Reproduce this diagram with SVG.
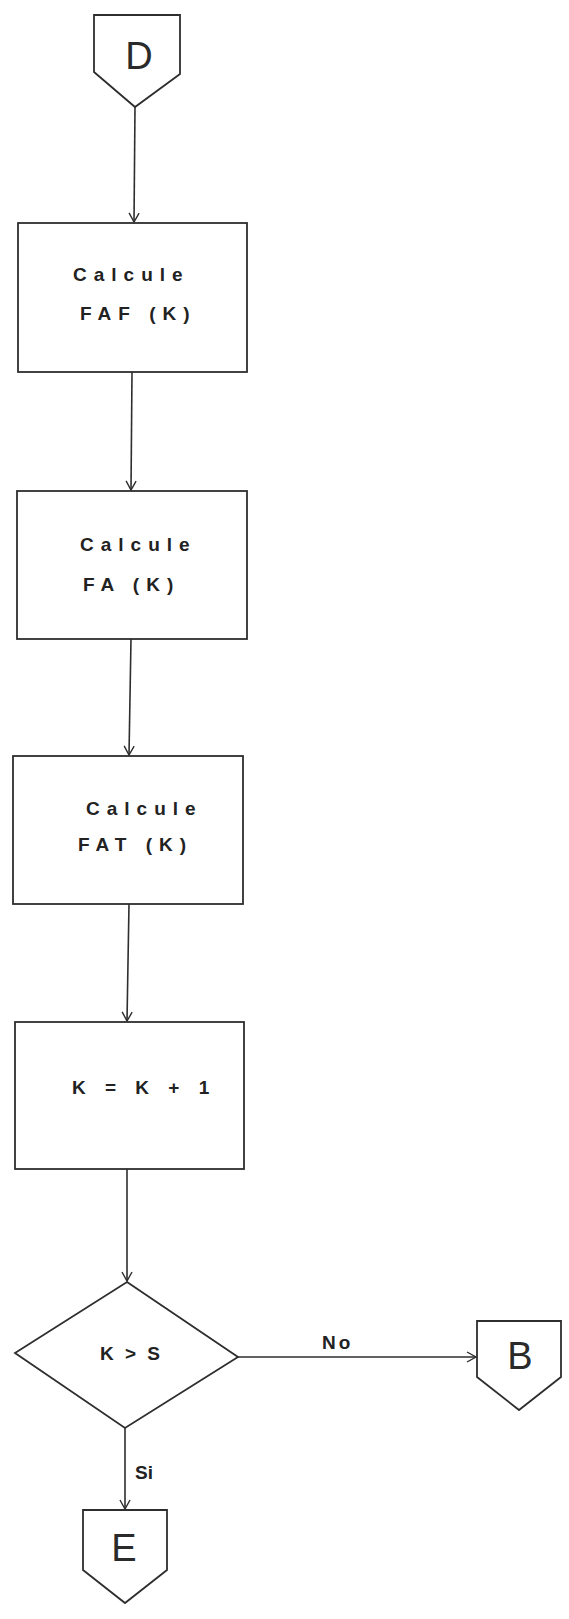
<svg xmlns="http://www.w3.org/2000/svg" width="569" height="1619" viewBox="0 0 569 1619">
<style>
.shape{fill:#fff;stroke:#2e2e2e;stroke-width:1.8;stroke-linejoin:miter}
.conn{fill:none;stroke:#2e2e2e;stroke-width:1.6}
.lbl{font-family:"Liberation Sans",Arial,sans-serif;font-weight:bold;font-size:19px;fill:#222;letter-spacing:7px}
.big{font-family:"Liberation Sans",Arial,sans-serif;font-size:38px;fill:#2a2a2a;text-anchor:middle}
.small{font-family:"Liberation Sans",Arial,sans-serif;font-weight:bold;font-size:19px;fill:#222}
</style>
<defs>
<marker id="arr" markerWidth="12" markerHeight="12" refX="10" refY="6" orient="auto" markerUnits="userSpaceOnUse">
<path d="M1,1 L10,6 L1,11" fill="none" stroke="#2e2e2e" stroke-width="1.4"/>
</marker>
</defs>
<rect width="569" height="1619" fill="#fff"/>
<g id="connectors">
<line class="conn" x1="135" y1="107" x2="134" y2="222" marker-end="url(#arr)"/>
<line class="conn" x1="132" y1="372" x2="131" y2="490" marker-end="url(#arr)"/>
<line class="conn" x1="131" y1="639" x2="129" y2="755" marker-end="url(#arr)"/>
<line class="conn" x1="129" y1="904" x2="127" y2="1021" marker-end="url(#arr)"/>
<line class="conn" x1="127" y1="1169" x2="127" y2="1281" marker-end="url(#arr)"/>
<line class="conn" x1="238" y1="1357" x2="476" y2="1357" marker-end="url(#arr)"/>
<line class="conn" x1="125" y1="1428" x2="125" y2="1509" marker-end="url(#arr)"/>
<text class="small" x="322" y="1349" letter-spacing="3">No</text>
<text class="small" x="135" y="1479">Si</text>
</g>
<g id="nodeD">
<path class="shape" d="M94,15 L180,15 L180,74 L135,107 L94,72 Z"/>
<text class="big" x="139" y="69">D</text>
</g>
<g id="node1">
<rect class="shape" x="18" y="223" width="229" height="149"/>
<text class="lbl" x="73" y="281" letter-spacing="7.5">Calcule</text>
<text class="lbl" x="80" y="320">FAF (K)</text>
</g>
<g id="node2">
<rect class="shape" x="17" y="491" width="230" height="148"/>
<text class="lbl" x="80" y="551" letter-spacing="7.5">Calcule</text>
<text class="lbl" x="83" y="591">FA (K)</text>
</g>
<g id="node3">
<rect class="shape" x="13" y="756" width="230" height="148"/>
<text class="lbl" x="86" y="815" letter-spacing="7">Calcule</text>
<text class="lbl" x="78" y="851">FAT (K)</text>
</g>
<g id="node4">
<rect class="shape" x="15" y="1022" width="229" height="147"/>
<text class="lbl" x="72" y="1094" letter-spacing="3">K = K + 1</text>
</g>
<g id="decision">
<path class="shape" d="M127,1282 L238,1357 L125,1428 L15,1353 Z"/>
<text class="small" x="100" y="1360" letter-spacing="3">K &gt; S</text>
</g>
<g id="nodeB">
<path class="shape" d="M477,1321 L561,1321 L561,1377 L519,1410 L477,1377 Z"/>
<text class="big" x="520" y="1369">B</text>
</g>
<g id="nodeE">
<path class="shape" d="M83,1510 L167,1510 L167,1570 L125,1603 L83,1570 Z"/>
<text class="big" x="124" y="1561">E</text>
</g>
</svg>
